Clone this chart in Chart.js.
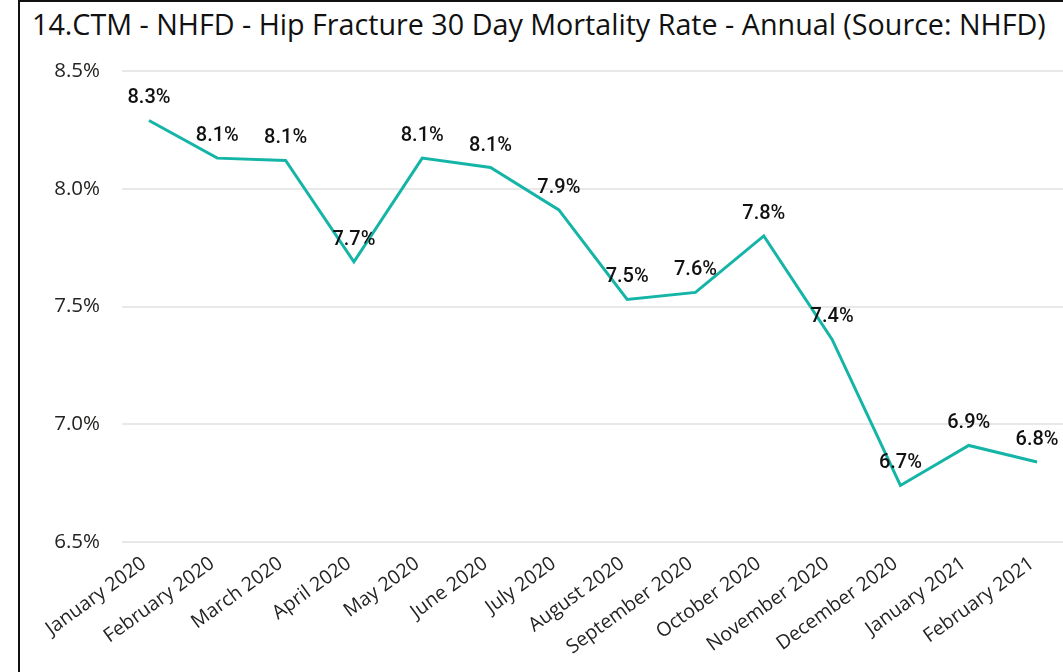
<!DOCTYPE html>
<html>
<head>
<meta charset="utf-8">
<script src="https://cdn.jsdelivr.net/npm/chart.js@4"></script>
<style>
  html, body { margin: 0; padding: 0; background: #fff; overflow: hidden; }
  #wrap { position: relative; width: 1063px; height: 672px; }
  #frame { position: absolute; left: 18px; top: 0; width: 1100px; height: 700px; border-left: 2px solid #111; border-top: 2px solid #111; box-sizing: border-box; }
  #title { position: absolute; left: 32px; top: 4px; font-family: "Open Sans", "Noto Sans", sans-serif; font-size: 28.7px; color: #111; white-space: nowrap; }
  canvas { position: absolute; left: 0; top: 0; }
</style>
</head>
<body>
<div id="wrap">
  <div id="frame"></div>
  <div id="title">14.CTM - NHFD - Hip Fracture 30 Day Mortality Rate - Annual (Source: NHFD)</div>
  <canvas id="c" width="1063" height="672"></canvas>
</div>
<script>
const categories = ["January 2020","February 2020","March 2020","April 2020","May 2020","June 2020","July 2020","August 2020","September 2020","October 2020","November 2020","December 2020","January 2021","February 2021"];
const mortalityRate = [8.29, 8.13, 8.12, 7.69, 8.13, 8.09, 7.91, 7.53, 7.56, 7.80, 7.36, 6.74, 6.91, 6.84];
const yTicks = [6.5, 7.0, 7.5, 8.0, 8.5];

const labelPlugin = {
  id: 'valueLabels',
  afterDatasetsDraw(chart) {
    const ctx = chart.ctx;
    const meta = chart.getDatasetMeta(0);
    ctx.save();
    ctx.font = '500 20px Roboto, "DejaVu Sans", sans-serif';
    ctx.fillStyle = '#111';
    ctx.textAlign = 'center';
    ctx.textBaseline = 'middle';
    meta.data.forEach((pt, i) => {
      ctx.fillText(mortalityRate[i].toFixed(1) + '%', pt.x, pt.y - 22);
    });
    ctx.restore();
  }
};

new Chart(document.getElementById('c'), {
  type: 'line',
  data: {
    datasets: [{
      data: mortalityRate.map((v, i) => ({ x: i, y: v })),
      borderColor: '#14B5A7',
      borderWidth: 3,
      pointRadius: 0,
      tension: 0,
      fill: false
    }]
  },
  options: {
    responsive: false,
    animation: false,
    layout: { padding: { left: 20, right: 0, top: 71, bottom: 0 } },
    plugins: { legend: { display: false }, tooltip: { enabled: false } },
    scales: {
      x: {
        type: 'linear',
        min: -0.395,
        max: 13.38,
        grid: { display: false },
        border: { display: false },
        afterFit(scale) { scale.height = 130; },
        afterBuildTicks(scale) { scale.ticks = categories.map((c, i) => ({ value: i })); },
        ticks: {
          autoSkip: false,
          maxRotation: 36,
          minRotation: 36,
          padding: 2,
          labelOffset: -5,
          color: '#252423',
          font: { family: '"Open Sans", "Noto Sans", sans-serif', size: 19.5 },
          callback: (v) => categories[v]
        }
      },
      y: {
        min: 6.5,
        max: 8.5,
        grid: { color: '#E8E8E8', lineWidth: 2, drawTicks: false },
        border: { display: false },
        afterFit(scale) { scale.width = 102; },
        afterBuildTicks(scale) { scale.ticks = yTicks.map(v => ({ value: v })); },
        ticks: {
          padding: 22,
          color: '#252423',
          font: { family: '"Open Sans", "Noto Sans", sans-serif', size: 20.5 },
          callback: (v) => v.toFixed(1) + '%'
        }
      }
    }
  },
  plugins: [labelPlugin]
});
</script>
</body>
</html>
